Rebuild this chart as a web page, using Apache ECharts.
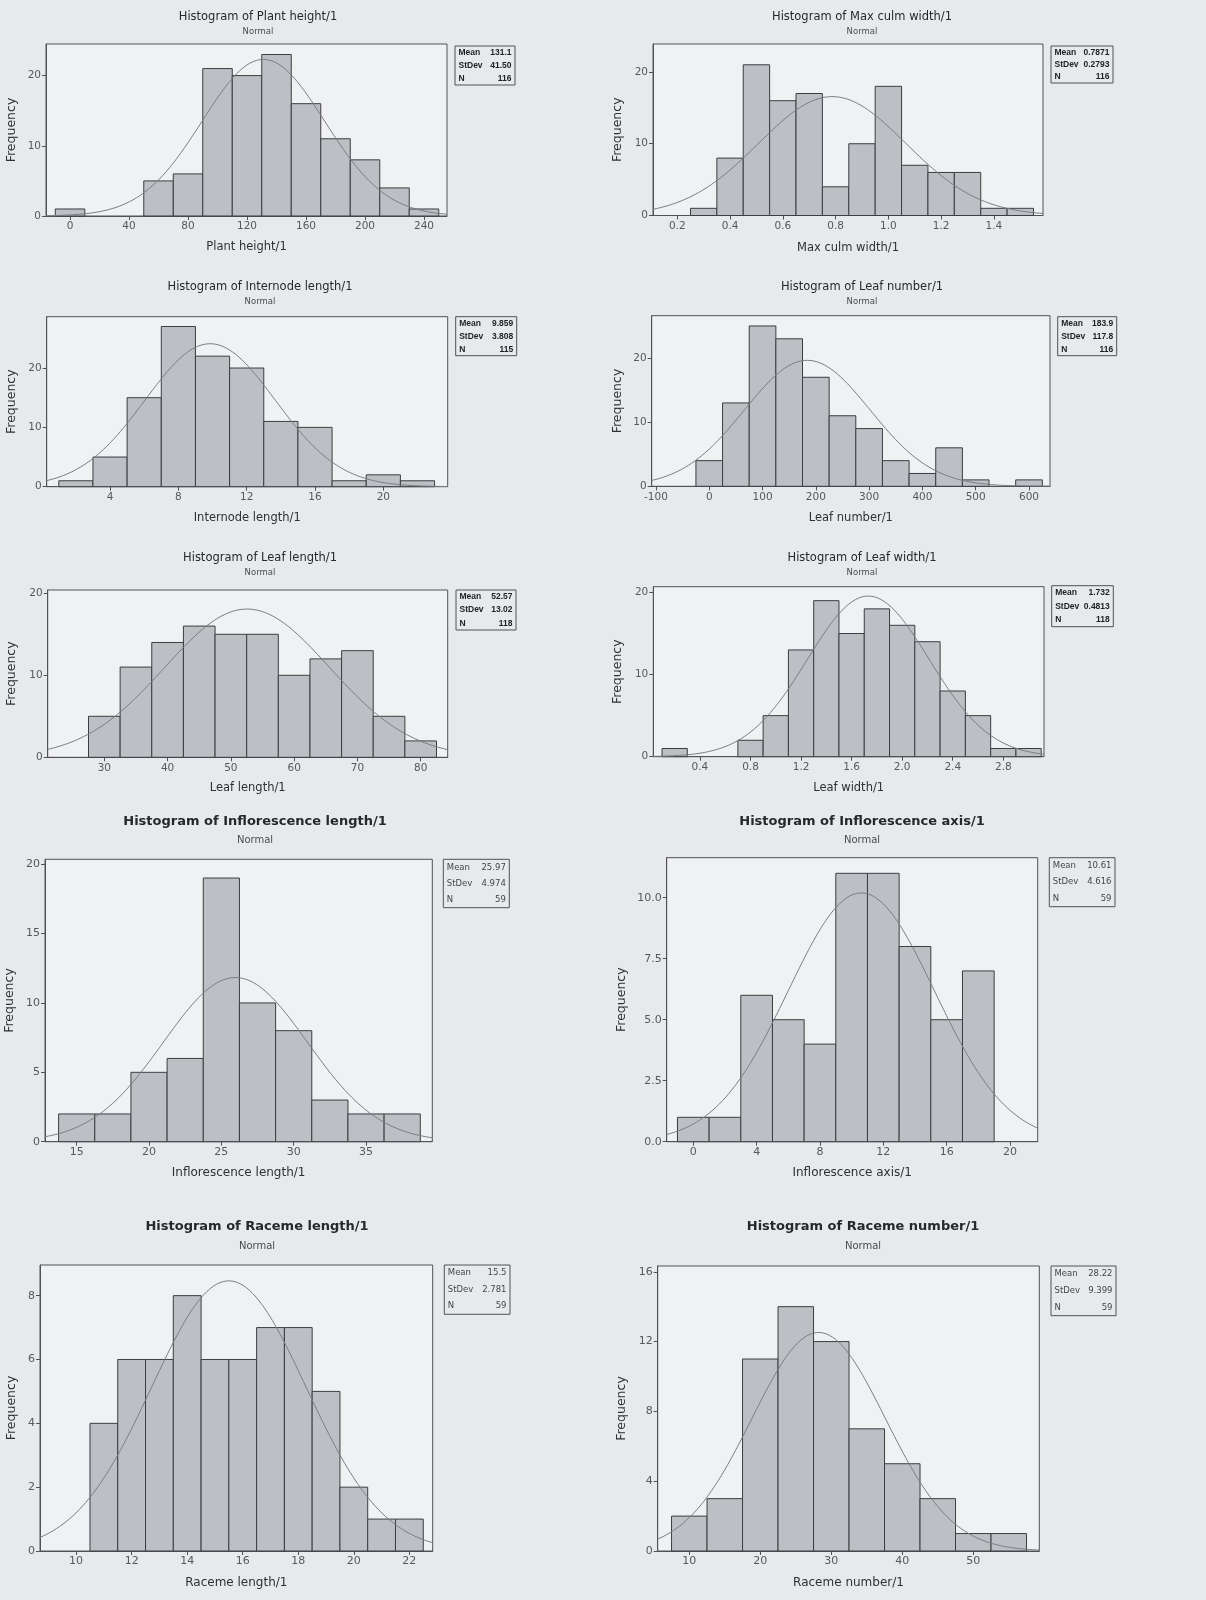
<!DOCTYPE html>
<html>
<head>
<meta charset="utf-8">
<title>Histograms of plant traits</title>
<script src="https://cdn.jsdelivr.net/npm/echarts@6/dist/echarts.min.js"></script>
<style>
  html, body { margin: 0; padding: 0; background: #e7e9ec; }
  #chart { width: 1206px; height: 1600px; }
</style>
</head>
<body>
<div id="chart"></div>
<script>
// ---- Histogram data: bin midpoints, counts, summary statistics, tick values ----
const plantHeightMids = [0, 20, 40, 60, 80, 100, 120, 140, 160, 180, 200, 220, 240];
const plantHeightCounts = [1, 0, 0, 5, 6, 21, 20, 23, 16, 11, 8, 4, 1];
const plantHeightStats = ['131.1', '41.50', '116'];
const plantHeightXTicks = [0, 40, 80, 120, 160, 200, 240];
const plantHeightYTicks = [0, 10, 20];

const maxCulmWidthMids = [0.3, 0.4, 0.5, 0.6, 0.7, 0.8, 0.9, 1.0, 1.1, 1.2, 1.3, 1.4, 1.5];
const maxCulmWidthCounts = [1, 8, 21, 16, 17, 4, 10, 18, 7, 6, 6, 1, 1];
const maxCulmWidthStats = ['0.7871', '0.2793', '116'];
const maxCulmWidthXTicks = [0.2, 0.4, 0.6, 0.8, 1.0, 1.2, 1.4];
const maxCulmWidthYTicks = [0, 10, 20];

const internodeLengthMids = [2, 4, 6, 8, 10, 12, 14, 16, 18, 20, 22];
const internodeLengthCounts = [1, 5, 15, 27, 22, 20, 11, 10, 1, 2, 1];
const internodeLengthStats = ['9.859', '3.808', '115'];
const internodeLengthXTicks = [4, 8, 12, 16, 20];
const internodeLengthYTicks = [0, 10, 20];

const leafNumberMids = [0, 50, 100, 150, 200, 250, 300, 350, 400, 450, 500, 550, 600];
const leafNumberCounts = [4, 13, 25, 23, 17, 11, 9, 4, 2, 6, 1, 0, 1];
const leafNumberStats = ['183.9', '117.8', '116'];
const leafNumberXTicks = [-100, 0, 100, 200, 300, 400, 500, 600];
const leafNumberYTicks = [0, 10, 20];

const leafLengthMids = [30, 35, 40, 45, 50, 55, 60, 65, 70, 75, 80];
const leafLengthCounts = [5, 11, 14, 16, 15, 15, 10, 12, 13, 5, 2];
const leafLengthStats = ['52.57', '13.02', '118'];
const leafLengthXTicks = [30, 40, 50, 60, 70, 80];
const leafLengthYTicks = [0, 10, 20];

const leafWidthMids = [0.2, 0.4, 0.6, 0.8, 1.0, 1.2, 1.4, 1.6, 1.8, 2.0, 2.2, 2.4, 2.6, 2.8, 3.0];
const leafWidthCounts = [1, 0, 0, 2, 5, 13, 19, 15, 18, 16, 14, 8, 5, 1, 1];
const leafWidthStats = ['1.732', '0.4813', '118'];
const leafWidthXTicks = [0.4, 0.8, 1.2, 1.6, 2.0, 2.4, 2.8];
const leafWidthYTicks = [0, 10, 20];

const inflorescenceLengthMids = [15, 17.5, 20, 22.5, 25, 27.5, 30, 32.5, 35, 37.5];
const inflorescenceLengthCounts = [2, 2, 5, 6, 19, 10, 8, 3, 2, 2];
const inflorescenceLengthStats = ['25.97', '4.974', '59'];
const inflorescenceLengthXTicks = [15, 20, 25, 30, 35];
const inflorescenceLengthYTicks = [0, 5, 10, 15, 20];

const inflorescenceAxisMids = [0, 2, 4, 6, 8, 10, 12, 14, 16, 18];
const inflorescenceAxisCounts = [1, 1, 6, 5, 4, 11, 11, 8, 5, 7];
const inflorescenceAxisStats = ['10.61', '4.616', '59'];
const inflorescenceAxisXTicks = [0, 4, 8, 12, 16, 20];
const inflorescenceAxisYTicks = [0, 2.5, 5, 7.5, 10];

const racemeLengthMids = [11, 12, 13, 14, 15, 16, 17, 18, 19, 20, 21, 22];
const racemeLengthCounts = [4, 6, 6, 8, 6, 6, 7, 7, 5, 2, 1, 1];
const racemeLengthStats = ['15.5', '2.781', '59'];
const racemeLengthXTicks = [10, 12, 14, 16, 18, 20, 22];
const racemeLengthYTicks = [0, 2, 4, 6, 8];

const racemeNumberMids = [10, 15, 20, 25, 30, 35, 40, 45, 50, 55];
const racemeNumberCounts = [2, 3, 11, 14, 12, 7, 5, 3, 1, 1];
const racemeNumberStats = ['28.22', '9.399', '59'];
const racemeNumberXTicks = [10, 20, 30, 40, 50];
const racemeNumberYTicks = [0, 4, 8, 12, 16];

const statLabels = ['Mean', 'StDev', 'N'];

// ---- Panel definitions (data references + page layout) ----
const panels = [
  { title: 'Histogram of Plant height/1', xName: 'Plant height/1',
    mids: plantHeightMids, counts: plantHeightCounts, stats: plantHeightStats,
    xTicks: plantHeightXTicks, yTicks: plantHeightYTicks, xDec: 0, yDec: 0,
    grid: [46, 44, 401, 172], xRange: [-16.3, 255.6], yMax: 24.5,
    titlePos: [258, 17], subY: 32, xNameY: 247, freqX: 12, box: [455, 46, 60, 39], big: false },
  { title: 'Histogram of Max culm width/1', xName: 'Max culm width/1',
    mids: maxCulmWidthMids, counts: maxCulmWidthCounts, stats: maxCulmWidthStats,
    xTicks: maxCulmWidthXTicks, yTicks: maxCulmWidthYTicks, xDec: 1, yDec: 0,
    grid: [653, 44, 390, 171.5], xRange: [0.108, 1.586], yMax: 23.9,
    titlePos: [862, 17], subY: 32, xNameY: 248, freqX: 618, box: [1051, 46, 62, 37], big: false },
  { title: 'Histogram of Internode length/1', xName: 'Internode length/1',
    mids: internodeLengthMids, counts: internodeLengthCounts, stats: internodeLengthStats,
    xTicks: internodeLengthXTicks, yTicks: internodeLengthYTicks, xDec: 0, yDec: 0,
    grid: [46.7, 316.7, 401, 170], xRange: [0.29, 23.77], yMax: 28.65,
    titlePos: [260, 287], subY: 302, xNameY: 518, freqX: 12, box: [455.7, 316.7, 61, 39], big: false },
  { title: 'Histogram of Leaf number/1', xName: 'Leaf number/1',
    mids: leafNumberMids, counts: leafNumberCounts, stats: leafNumberStats,
    xTicks: leafNumberXTicks, yTicks: leafNumberYTicks, xDec: 0, yDec: 0,
    grid: [651.7, 315.7, 398.3, 170.6], xRange: [-108, 639.4], yMax: 26.6,
    titlePos: [862, 287], subY: 302, xNameY: 518, freqX: 618, box: [1057.7, 316.7, 59, 39], big: false },
  { title: 'Histogram of Leaf length/1', xName: 'Leaf length/1',
    mids: leafLengthMids, counts: leafLengthCounts, stats: leafLengthStats,
    xTicks: leafLengthXTicks, yTicks: leafLengthYTicks, xDec: 0, yDec: 0,
    grid: [47.7, 590, 400, 167.3], xRange: [21.05, 84.27], yMax: 20.4,
    titlePos: [260, 558], subY: 573, xNameY: 788, freqX: 12, box: [456, 590, 60, 40], big: false },
  { title: 'Histogram of Leaf width/1', xName: 'Leaf width/1',
    mids: leafWidthMids, counts: leafWidthCounts, stats: leafWidthStats,
    xTicks: leafWidthXTicks, yTicks: leafWidthYTicks, xDec: 1, yDec: 0,
    grid: [653.3, 586.7, 390.7, 170], xRange: [0.031, 3.122], yMax: 20.7,
    titlePos: [862, 558], subY: 573, xNameY: 788, freqX: 618, box: [1051.7, 585.7, 61.6, 41], big: false },
  { title: 'Histogram of Inflorescence length/1', xName: 'Inflorescence length/1',
    mids: inflorescenceLengthMids, counts: inflorescenceLengthCounts, stats: inflorescenceLengthStats,
    xTicks: inflorescenceLengthXTicks, yTicks: inflorescenceLengthYTicks, xDec: 0, yDec: 0,
    grid: [45, 859.3, 387.3, 282.4], xRange: [12.81, 39.58], yMax: 20.35,
    titlePos: [255, 822], subY: 840, xNameY: 1173, freqX: 10, box: [443.3, 859.3, 66, 48.4], big: true },
  { title: 'Histogram of Inflorescence axis/1', xName: 'Inflorescence axis/1',
    mids: inflorescenceAxisMids, counts: inflorescenceAxisCounts, stats: inflorescenceAxisStats,
    xTicks: inflorescenceAxisXTicks, yTicks: inflorescenceAxisYTicks, xDec: 0, yDec: 1,
    grid: [666.7, 857.7, 371, 284], xRange: [-1.68, 21.75], yMax: 11.64,
    titlePos: [862, 822], subY: 840, xNameY: 1173, freqX: 622, box: [1049.3, 857.7, 65.7, 49], big: true },
  { title: 'Histogram of Raceme length/1', xName: 'Raceme length/1',
    mids: racemeLengthMids, counts: racemeLengthCounts, stats: racemeLengthStats,
    xTicks: racemeLengthXTicks, yTicks: racemeLengthYTicks, xDec: 0, yDec: 0,
    grid: [40, 1265, 392.7, 286], xRange: [8.70, 22.84], yMax: 8.96,
    titlePos: [257, 1227], subY: 1246, xNameY: 1583, freqX: 12, box: [444.3, 1265, 65.7, 49.3], big: true },
  { title: 'Histogram of Raceme number/1', xName: 'Raceme number/1',
    mids: racemeNumberMids, counts: racemeNumberCounts, stats: racemeNumberStats,
    xTicks: racemeNumberXTicks, yTicks: racemeNumberYTicks, xDec: 0, yDec: 0,
    grid: [657.7, 1266, 381.6, 285], xRange: [5.55, 59.3], yMax: 16.33,
    titlePos: [863, 1227], subY: 1246, xNameY: 1583, freqX: 622, box: [1051, 1266, 65, 49.7], big: true }
];

const FONT = '"DejaVu Sans", Verdana, sans-serif';
const STAT_FONT_BOLD = '"Liberation Sans", Arial, sans-serif';
const PAGE_BG = '#e7e9ec';
const PLOT_BG = '#f0f1f3';
const BAR_FILL = '#bcbfc4';
const BAR_EDGE = '#3c3d40';
const CURVE = '#7a7d81';
const AXIS = '#505256';

const grids = [], xAxes = [], yAxes = [], series = [], graphics = [];

panels.forEach((p, i) => {
  const [gl, gt, gw, gh] = p.grid;
  const tickFs = p.big ? 11 : 10.5;
  const nameFs = p.big ? 12 : 11.5;
  const freqFs = 12.5;

  grids.push({
    left: gl, top: gt, width: gw, height: gh,
    show: true, backgroundColor: PLOT_BG, borderColor: AXIS, borderWidth: 1
  });

  xAxes.push({
    type: 'value', gridIndex: i, min: p.xRange[0], max: p.xRange[1],
    name: p.xName, nameLocation: 'middle',
    nameGap: p.xNameY - (gt + gh) - nameFs / 2,
    nameTextStyle: { fontFamily: FONT, fontSize: nameFs, color: '#2e3033' },
    axisLine: { show: true, onZero: false, lineStyle: { color: AXIS, width: 1 } },
    axisTick: { show: true, length: 4, customValues: p.xTicks, lineStyle: { color: AXIS } },
    axisLabel: {
      customValues: p.xTicks, fontFamily: FONT, fontSize: tickFs, color: '#55585c', margin: 5,
      formatter: v => Number(v).toFixed(p.xDec)
    },
    splitLine: { show: false }
  });

  yAxes.push({
    type: 'value', gridIndex: i, min: 0, max: p.yMax,
    name: 'Frequency', nameLocation: 'middle', nameRotate: 90,
    nameGap: gl - p.freqX - freqFs / 2,
    nameTextStyle: { fontFamily: FONT, fontSize: freqFs, color: '#2e3033' },
    axisLine: { show: true, onZero: false, lineStyle: { color: AXIS, width: 1 } },
    axisTick: { show: true, length: 4, customValues: p.yTicks, lineStyle: { color: AXIS } },
    axisLabel: {
      customValues: p.yTicks, fontFamily: FONT, fontSize: tickFs, color: '#55585c', margin: 5,
      formatter: v => Number(v).toFixed(p.yDec)
    },
    splitLine: { show: false }
  });

  // Histogram bars: [binStart, binEnd, count]
  const w = p.mids[1] - p.mids[0];
  const bins = p.mids.map((m, k) => [m - w / 2, m + w / 2, p.counts[k]]);
  series.push({
    type: 'custom', xAxisIndex: i, yAxisIndex: i, data: bins,
    encode: { x: [0, 1], y: 2 },
    renderItem: (params, api) => {
      const c = api.value(2);
      if (!c) return null;
      const a = api.coord([api.value(0), c]);
      const b = api.coord([api.value(1), 0]);
      return {
        type: 'rect',
        shape: { x: a[0], y: a[1], width: b[0] - a[0], height: b[1] - a[1] },
        style: { fill: BAR_FILL, stroke: BAR_EDGE, lineWidth: 1 }
      };
    },
    z: 2
  });

  // Fitted normal curve from the reported mean, standard deviation and N
  const mean = Number(p.stats[0]), sd = Number(p.stats[1]), n = Number(p.stats[2]);
  const steps = 240;
  const curve = [];
  for (let k = 0; k <= steps; k++) {
    const x = p.xRange[0] + (p.xRange[1] - p.xRange[0]) * k / steps;
    const z = (x - mean) / sd;
    curve.push([x, n * w / (sd * Math.sqrt(2 * Math.PI)) * Math.exp(-0.5 * z * z)]);
  }
  series.push({
    type: 'line', xAxisIndex: i, yAxisIndex: i, data: curve,
    showSymbol: false, symbol: 'none', silent: true,
    lineStyle: { color: CURVE, width: 1 }, z: 3
  });

  // Title and subtitle
  graphics.push({
    type: 'text', x: p.titlePos[0], y: p.titlePos[1],
    style: {
      text: p.title, textAlign: 'center', textVerticalAlign: 'middle',
      font: (p.big ? 'bold 13px ' : '11.5px ') + FONT, fill: '#26282b'
    }
  });
  graphics.push({
    type: 'text', x: p.titlePos[0], y: p.subY,
    style: {
      text: 'Normal', textAlign: 'center', textVerticalAlign: 'middle',
      font: (p.big ? '10px ' : '8.5px ') + FONT, fill: '#4a4c50'
    }
  });

  // Summary statistics box
  const [bx, by, bw, bh] = p.box;
  graphics.push({
    type: 'rect', shape: { x: bx, y: by, width: bw, height: bh },
    style: { fill: 'none', stroke: AXIS, lineWidth: 1 }
  });
  const statFont = p.big ? ('8.5px ' + FONT) : ('bold 8.5px ' + STAT_FONT_BOLD);
  const statColor = p.big ? '#44464a' : '#1e2022';
  statLabels.forEach((lab, r) => {
    const ry = by + bh * (1 + 2 * r) / 6;
    graphics.push({
      type: 'text', x: bx + 3.5, y: ry,
      style: { text: lab, textAlign: 'left', textVerticalAlign: 'middle', font: statFont, fill: statColor }
    });
    graphics.push({
      type: 'text', x: bx + bw - 3.5, y: ry,
      style: { text: p.stats[r], textAlign: 'right', textVerticalAlign: 'middle', font: statFont, fill: statColor }
    });
  });
});

const chart = echarts.init(document.getElementById('chart'), null, { renderer: 'canvas', width: 1206, height: 1600 });
chart.setOption({
  backgroundColor: PAGE_BG,
  animation: false,
  grid: grids,
  xAxis: xAxes,
  yAxis: yAxes,
  series: series,
  graphic: graphics
});
</script>
</body>
</html>
